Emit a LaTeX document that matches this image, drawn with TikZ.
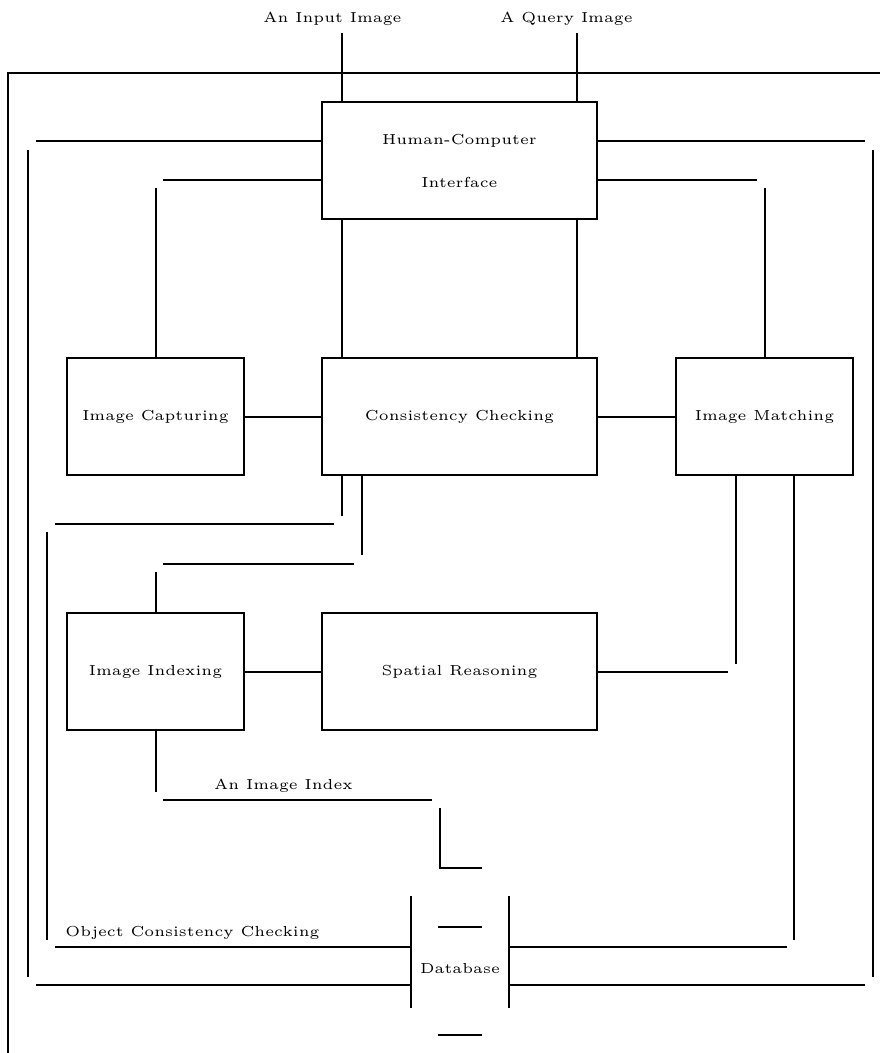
\documentclass[tikz,border=0pt]{standalone}
\usepackage{graphicx}
\newcommand\lbl[1]{\scalebox{2.9}{\fontsize{5}{6}\selectfont #1}}
\begin{document}
\begin{tikzpicture}[x=1pt,y=-1pt,
  box/.style={draw,line width=2pt,inner sep=0pt,minimum height=117pt,align=center,font=\fontsize{10}{43}\selectfont},
  wide/.style={box,minimum width=275pt},
  narrow/.style={box,minimum width=177pt},
  wire/.style={line width=2pt},
  lab/.style={inner sep=0pt}]
\useasboundingbox (0,0) rectangle (880,1053);
\fill[white] (0,0) rectangle (880,1053);
% boxes
\node[wide] (hci) at (459.5,160.5) {\lbl{Human-Computer}\\\lbl{Interface}};
\node[wide] (cc) at (459.5,416.5) {\lbl{Consistency Checking}};
\node[narrow] (ic) at (155.5,416.5) {\lbl{Image Capturing}};
\node[narrow] (im) at (764.5,416.5) {\lbl{Image Matching}};
\node[narrow] (ii) at (155.5,671.5) {\lbl{Image Indexing}};
\node[wide] (sr) at (459.5,671.5) {\lbl{Spatial Reasoning}};
\node[lab] (db) at (460,969) {\lbl{Database}};
% labels
\node[lab] (inimg) at (332.5,18.5) {\lbl{An Input Image}};
\node[lab] (qimg) at (566.5,18.5) {\lbl{A Query Image}};
\node[lab] (idx) at (283.5,785.5) {\lbl{An Image Index}};
\node[lab] (occ) at (192.5,932.5) {\lbl{Object Consistency Checking}};
% free ends
\coordinate (inimgE) at (342,33);
\coordinate (qimgE) at (577,33);
% frame
\draw[wire] (880,73) -- (8,73) -- (8,1053);
% inputs
\draw[wire] (inimgE) -- ([xshift=-117.5pt]hci.north);
\draw[wire] (qimgE) -- ([xshift=117.5pt]hci.north);
% hci - cc
\draw[wire] ([xshift=-117.5pt]hci.south) -- ([xshift=-117.5pt]cc.north);
\draw[wire] ([xshift=117.5pt]hci.south) -- ([xshift=117.5pt]cc.north);
% outer left loop
\draw[wire] ([yshift=19.5pt]hci.west) -- (36,141);
\draw[wire] (28,150) -- (28,977);
\draw[wire] (36,985) -- (411,985);
% inner left
\draw[wire] ([yshift=-19.5pt]hci.west) -- (163,180);
\draw[wire] (155.5,188) -- (ic.north);
% outer right loop
\draw[wire] ([yshift=19.5pt]hci.east) -- (865,141);
\draw[wire] (873,150) -- (873,977);
\draw[wire] (865,985) -- (509,985);
% inner right
\draw[wire] ([yshift=-19.5pt]hci.east) -- (757,180);
\draw[wire] (764.5,188) -- (im.north);
% middle row
\draw[wire] (ic.east) -- (cc.west);
\draw[wire] (cc.east) -- (im.west);
% object consistency checking
\draw[wire] ([xshift=-117.5pt]cc.south) -- (342,516);
\draw[wire] (334,524) -- (55,524);
\draw[wire] (47,532) -- (47,940);
\draw[wire] (55,947) -- (411,947);
% cc - image indexing
\draw[wire] ([xshift=-97.5pt]cc.south) -- (362,555);
\draw[wire] (354,564) -- (163,564);
\draw[wire] (155.5,572) -- (ii.north);
% lower row
\draw[wire] (ii.east) -- (sr.west);
\draw[wire] (sr.east) -- (728,671.5);
\draw[wire] (736,664) -- ([xshift=-28.5pt]im.south);
\draw[wire] ([xshift=29.5pt]im.south) -- (794,940);
\draw[wire] (787,947) -- (509,947);
% image index
\draw[wire] (ii.south) -- (155.5,792);
\draw[wire] (163,800) -- (432,800);
\draw[wire] (440,808) -- (440,868) -- (482,868);
% database
\draw[wire] (411,896) -- (411,1008);
\draw[wire] (509,896) -- (509,1008);
\draw[wire] (438,927) -- (482,927);
\draw[wire] (438,1035) -- (482,1035);
\end{tikzpicture}
\end{document}
